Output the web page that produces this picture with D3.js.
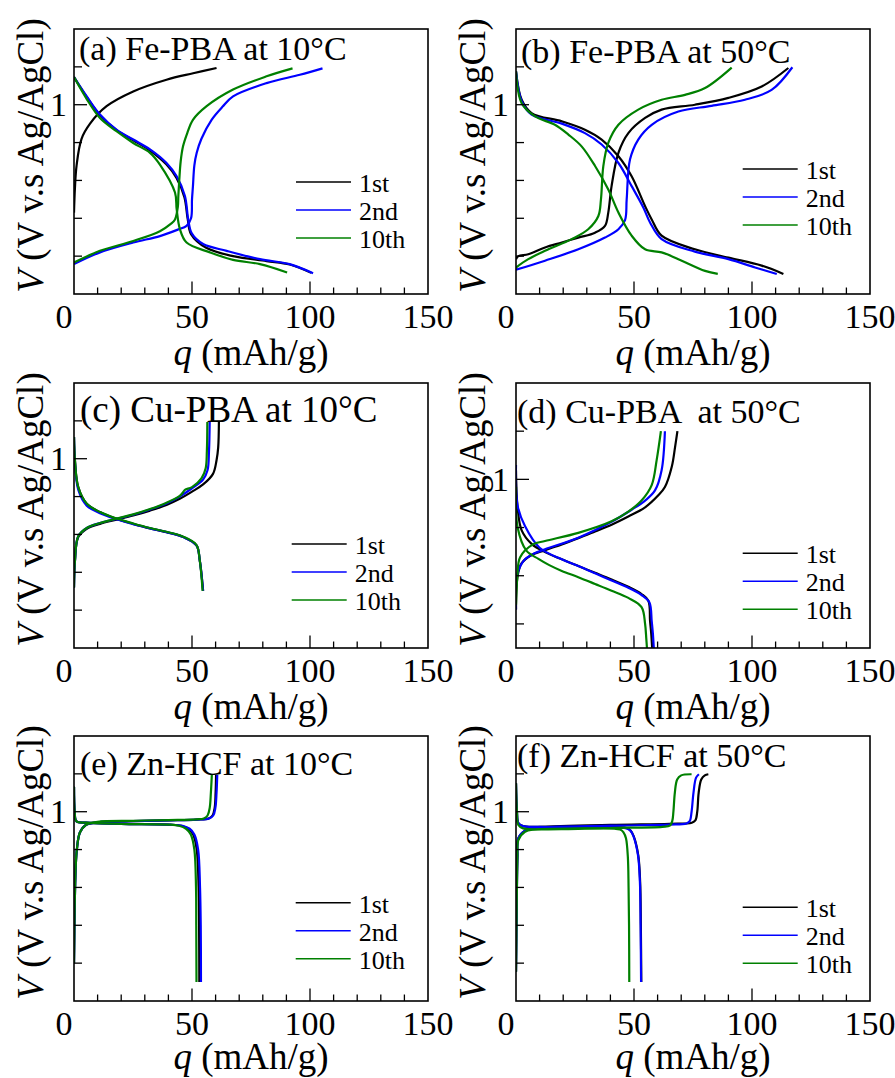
<!DOCTYPE html>
<html>
<head>
<meta charset="utf-8">
<script src="https://cdn.jsdelivr.net/npm/d3@7"></script>
<style>
  body { margin: 0; background: #fff; }
</style>
</head>
<body>
<svg id="chart" width="895" height="1078"></svg>
<script>
// ---------- shared labels ----------
const cycleNames = ["1st", "2nd", "10th"];
const cycleColors = ["#000000", "#0000ff", "#008000"];
const qTickLabels = [0, 50, 100, 150];
const vTickLabels = [1];

// ---------- (a) Fe-PBA at 10 °C   points are [q (mAh/g), V] ----------
const feCold_chg1 = [[0,0.715],[0.4,0.78],[1.1,0.84],[3.2,0.91],[6.8,0.95],[13.8,0.996],[25.1,1.035],[39.2,1.066],[50.5,1.083],[60.4,1.097]];
const feCold_dis1 = [[0,1.073],[5.4,1.02],[11,0.972],[18,0.933],[25.1,0.906],[32.2,0.879],[39.2,0.842],[43.5,0.806],[46.8,0.755],[48.2,0.697],[49.6,0.658],[56,0.622],[67.4,0.6],[81.6,0.587],[91.4,0.578],[100.5,0.556]];
const feCold_chg2 = [[0,0.579],[11,0.61],[25.1,0.636],[36.4,0.653],[44,0.67],[47.7,0.68],[49.6,0.70],[50,0.75],[50.4,0.785],[51,0.84],[52,0.873],[54,0.91],[58.3,0.96],[63,0.995],[67.4,1.022],[81.6,1.057],[95.7,1.079],[105.3,1.096]];
const feCold_dis2 = [[0,1.073],[5.4,1.022],[11,0.974],[18,0.934],[25.1,0.908],[32.2,0.882],[39.2,0.846],[43.5,0.811],[47,0.759],[48.4,0.697],[49.9,0.660],[54.7,0.632],[64.7,0.614],[78.8,0.592],[91.4,0.579],[101.3,0.555]];
const feCold_chg10 = [[0,0.583],[11,0.614],[25.1,0.64],[36.4,0.666],[41,0.685],[42.8,0.697],[44,0.73],[44.2,0.758],[44.6,0.8],[45.2,0.85],[46.2,0.89],[48,0.925],[50.4,0.96],[56.2,0.996],[67.4,1.04],[81.6,1.075],[92.6,1.096]];
const feCold_dis10 = [[0,1.073],[5.4,1.015],[11,0.965],[18,0.93],[25.1,0.899],[32.2,0.873],[36.4,0.842],[42.8,0.768],[43.5,0.724],[44.9,0.671],[47.7,0.636],[57.6,0.61],[67.4,0.59],[78.8,0.579],[90.3,0.557]];

// ---------- (b) Fe-PBA at 50 °C ----------
const feHot_chg1 = [[0,0.592],[1,0.6],[5.2,0.605],[12.3,0.623],[19.4,0.636],[26.4,0.649],[33.5,0.662],[37.7,0.68],[39.1,0.715],[40.5,0.785],[43.4,0.873],[47.6,0.925],[54.7,0.965],[61.7,0.987],[75.8,1.0],[90,1.018],[104.1,1.048],[115.4,1.097]];
const feHot_dis1 = [[0,1.088],[2.4,1.013],[6.6,0.978],[19.4,0.956],[29.2,0.934],[36.3,0.908],[43.4,0.864],[49,0.811],[54.7,0.732],[57.5,0.697],[61.7,0.654],[75.8,0.618],[90,0.596],[104.1,0.575],[113.3,0.553]];
const feHot_chg2 = [[0,0.564],[12.3,0.588],[26.4,0.618],[37.7,0.649],[43.4,0.671],[46.2,0.695],[46.9,0.75],[48.3,0.855],[51.8,0.908],[57.5,0.947],[68.8,0.982],[82.9,0.997],[97,1.013],[108.3,1.039],[117.1,1.099]];
const feHot_dis2 = [[0,1.088],[2.4,1.009],[6.6,0.974],[19.4,0.95],[29.2,0.925],[36.3,0.895],[43.4,0.846],[49,0.785],[54,0.728],[56.8,0.689],[61.7,0.645],[75.8,0.612],[90,0.592],[101.3,0.57],[110.5,0.553]];
const feHot_chg10 = [[0,0.57],[5.2,0.592],[12.3,0.614],[23.6,0.645],[30.6,0.671],[34.9,0.706],[36,0.75],[37,0.838],[39.1,0.899],[43.4,0.947],[51.8,0.987],[61.7,1.013],[71.6,1.026],[80.1,1.044],[91.4,1.098]];
const feHot_dis10 = [[0,1.088],[2.4,1.004],[8.1,0.969],[16.5,0.947],[22.2,0.921],[27.8,0.89],[33.5,0.838],[39.1,0.776],[43.4,0.715],[49,0.654],[54.7,0.618],[61.7,0.61],[68.8,0.592],[80.1,0.561],[85.5,0.553]];

// ---------- (c) Cu-PBA at 10 °C ----------
const cuCold_chg1 = [[0,0.66],[0.4,0.73],[1.8,0.793],[5.4,0.815],[11,0.828],[18.1,0.839],[25.1,0.85],[32.2,0.863],[39.2,0.878],[44.8,0.894],[50,0.913],[54.7,0.932],[58.9,0.96],[60.4,0.996],[61.1,1.03],[61.4,1.097]];
const cuCold_dis1 = [[0,1.057],[0.4,0.996],[1.8,0.925],[5.4,0.881],[11,0.859],[18.1,0.841],[25.1,0.828],[32.2,0.816],[39.2,0.806],[46.3,0.793],[51.9,0.771],[53.3,0.731],[54.7,0.651]];
const cuCold_chg2 = [[0,0.66],[0.4,0.73],[1.8,0.795],[5.4,0.817],[11,0.83],[18.1,0.841],[25.1,0.852],[32.2,0.866],[39.2,0.882],[44.8,0.9],[50,0.922],[54.7,0.945],[56.6,0.97],[57.2,1.02],[57.5,1.097]];
const cuCold_dis2 = [[0,1.057],[0.4,0.99],[1.8,0.918],[5.4,0.876],[11,0.856],[18.1,0.84],[25.1,0.827],[32.2,0.816],[39.2,0.806],[46.3,0.793],[51.9,0.771],[53.3,0.731],[54.7,0.651]];
const cuCold_chg10 = [[0,0.66],[0.4,0.73],[1.8,0.795],[5.4,0.817],[11,0.83],[18.1,0.842],[25.1,0.853],[32.2,0.867],[39.2,0.884],[44.8,0.902],[46.3,0.912],[47,0.918],[50,0.925],[54,0.948],[55.8,0.975],[56.3,1.02],[56.5,1.097]];
const cuCold_dis10 = [[0,1.057],[0.4,0.996],[1.8,0.925],[5.4,0.881],[11,0.859],[18.1,0.842],[25.1,0.829],[32.2,0.817],[39.2,0.807],[46.3,0.794],[51.9,0.772],[53.3,0.731],[54.5,0.651]];

// ---------- (d) Cu-PBA at 50 °C ----------
const cuHot_chg1 = [[0,0.73],[0.7,0.8],[2.4,0.826],[6.6,0.843],[12.3,0.853],[19.4,0.865],[26.4,0.878],[33.5,0.892],[40.5,0.906],[47.6,0.923],[54.7,0.942],[60.3,0.967],[63.1,0.984],[66,1.026],[67.4,1.067],[68.4,1.1]];
const cuHot_dis1 = [[0,1.019],[0.7,0.94],[2.4,0.894],[6.6,0.866],[12.3,0.849],[19.4,0.834],[26.4,0.82],[33.5,0.806],[40.5,0.792],[47.6,0.777],[53.2,0.762],[56.1,0.748],[56.8,0.706],[57.3,0.68],[57.7,0.649]];
const cuHot_chg2 = [[0,0.73],[0.7,0.805],[3.8,0.834],[8.1,0.847],[12.3,0.855],[26.4,0.879],[40.5,0.912],[49,0.937],[54.7,0.956],[58.9,0.977],[61.7,1.019],[63.1,1.1]];
const cuHot_dis2 = [[0,1.03],[0.7,0.945],[3.8,0.903],[10,0.858],[19.4,0.834],[26.4,0.82],[33.5,0.805],[40.5,0.79],[47.6,0.775],[53.2,0.76],[56.5,0.745],[57.5,0.706],[58,0.68],[58.4,0.649]];
const cuHot_chg10 = [[0,0.74],[0.6,0.8],[1.7,0.838],[7.2,0.865],[12.3,0.872],[26.4,0.889],[40.5,0.913],[47.6,0.933],[53.2,0.956],[57.5,0.988],[59.6,1.04],[61.4,1.1]];
const cuHot_dis10 = [[0,0.984],[0.7,0.9],[4.4,0.852],[9.5,0.835],[14.1,0.822],[19.4,0.81],[26.4,0.797],[33.5,0.783],[40.5,0.769],[47.6,0.754],[53.2,0.735],[54.7,0.7],[55.2,0.67],[55.5,0.649]];

// ---------- (e) Zn-HCF at 10 °C ----------
const znCold_chg1 = [[0,0.6],[0.3,0.75],[0.7,0.85],[1.2,0.9],[2.5,0.945],[5,0.965],[10,0.972],[25,0.975],[40,0.977],[52,0.979],[57,0.982],[58.7,0.99],[59.6,1.01],[60,1.05],[60.2,1.097]];
const znCold_dis1 = [[0,1.066],[0.3,1.0],[1,0.975],[5,0.971],[20,0.968],[40,0.966],[45.5,0.963],[48.5,0.955],[50.5,0.94],[52,0.9],[52.8,0.8],[53,0.7],[53.1,0.55]];
const znCold_chg2 = [[0,0.6],[0.3,0.75],[0.7,0.85],[1.2,0.9],[2.5,0.945],[5,0.965],[10,0.972],[25,0.975],[40,0.977],[52,0.979],[57.3,0.982],[59,0.99],[59.9,1.01],[60.4,1.05],[60.7,1.097]];
const znCold_dis2 = [[0,1.066],[0.3,1.0],[1,0.975],[5,0.971],[20,0.968],[40,0.966],[46,0.963],[49,0.955],[51,0.94],[52.6,0.9],[53.4,0.8],[53.7,0.7],[53.8,0.55]];
const znCold_chg10 = [[0,0.6],[0.3,0.75],[0.7,0.85],[1.2,0.9],[2.5,0.945],[5,0.965],[10,0.973],[25,0.976],[40,0.978],[52,0.98],[55,0.982],[56.6,0.99],[57.5,1.01],[58,1.05],[58.4,1.097]];
const znCold_dis10 = [[0,1.066],[0.3,1.0],[1,0.975],[5,0.971],[20,0.968],[40,0.966],[44.5,0.963],[47.5,0.955],[49.5,0.94],[51,0.9],[51.7,0.8],[51.8,0.7],[51.9,0.55]];

// ---------- (f) Zn-HCF at 50 °C ----------
const znHot_chg1 = [[0,0.577],[0.3,0.75],[0.6,0.88],[1,0.93],[3.8,0.95],[8,0.958],[40,0.965],[65,0.968],[74.5,0.971],[76,0.977],[76.8,1.0],[77.4,1.05],[78.5,1.085],[80,1.096],[81.5,1.099]];
const znHot_dis1 = [[0,1.075],[0.4,1.0],[1,0.97],[3,0.962],[10,0.96],[30,0.958],[46.9,0.957],[48.6,0.95],[49.9,0.935],[51.8,0.885],[52.6,0.815],[52.9,0.7],[53.1,0.55]];
const znHot_chg2 = [[0,0.577],[0.3,0.75],[0.6,0.88],[1,0.93],[3.8,0.95],[8,0.957],[40,0.963],[65,0.966],[72.2,0.969],[73.6,0.975],[74.4,1.0],[75.2,1.05],[76.3,1.09],[77.5,1.099]];
const znHot_dis2 = [[0,1.075],[0.4,1.0],[1,0.97],[3,0.962],[10,0.96],[30,0.958],[46.8,0.956],[48.5,0.95],[49.8,0.935],[51.7,0.885],[52.5,0.815],[52.8,0.7],[53,0.55]];
const znHot_chg10 = [[0,0.577],[0.3,0.75],[0.6,0.88],[1,0.925],[3.8,0.947],[8,0.953],[40,0.957],[62,0.96],[65.2,0.963],[66.2,0.975],[66.7,1.0],[67.3,1.05],[68.3,1.085],[70,1.096],[74.4,1.099]];
const znHot_dis10 = [[0,1.075],[0.4,1.0],[1,0.965],[3,0.956],[20,0.954],[44.1,0.953],[45.6,0.945],[46.6,0.93],[47.4,0.88],[47.7,0.8],[47.9,0.7],[48,0.55]];

// ---------- panel layout (box corners, per-panel voltage window, label spots) ----------
const panels = [
  { title: "(a) Fe-PBA at 10°C",  col: 0, row: 0, vDomain: [0.5, 1.2],  titleSize: 34, titleAt: [5, 30.5], legendAt: [222, 153],
    curves: [[feCold_chg1, feCold_dis1], [feCold_chg2, feCold_dis2], [feCold_chg10, feCold_dis10]] },
  { title: "(b) Fe-PBA at 50°C",  col: 1, row: 0, vDomain: [0.5, 1.2],  titleSize: 34, titleAt: [5, 34.3], legendAt: [226.7, 140],
    curves: [[feHot_chg1, feHot_dis1], [feHot_chg2, feHot_dis2], [feHot_chg10, feHot_dis10]] },
  { title: "(c) Cu-PBA at 10°C",  col: 0, row: 1, vDomain: [0.5, 1.2],  titleSize: 37, titleAt: [6, 39], legendAt: [217.7, 161],
    curves: [[cuCold_chg1, cuCold_dis1], [cuCold_chg2, cuCold_dis2], [cuCold_chg10, cuCold_dis10]] },
  { title: "(d) Cu-PBA  at 50°C", col: 1, row: 1, vDomain: [0.65, 1.2], titleSize: 34, titleAt: [1, 39.5], legendAt: [226.7, 170.3],
    curves: [[cuHot_chg1, cuHot_dis1], [cuHot_chg2, cuHot_dis2], [cuHot_chg10, cuHot_dis10]] },
  { title: "(e) Zn-HCF at 10°C",  col: 0, row: 2, vDomain: [0.5, 1.2],  titleSize: 34, titleAt: [6, 39], legendAt: [221.7, 166.7],
    curves: [[znCold_chg1, znCold_dis1], [znCold_chg2, znCold_dis2], [znCold_chg10, znCold_dis10]] },
  { title: "(f) Zn-HCF at 50°C",  col: 1, row: 2, vDomain: [0.5, 1.2],  titleSize: 34, titleAt: [1, 31], legendAt: [226.7, 171.3],
    curves: [[znHot_chg1, znHot_dis1], [znHot_chg2, znHot_dis2], [znHot_chg10, znHot_dis10]] }
];

const serif = "'Liberation Serif'";
const W = 895, H = 1078;
const colLeft = [74, 516];
const rowTop = [29, 383, 736];
const boxW = 354, boxH = 265;

const svg = d3.select("#chart");
svg.append("rect").attr("width", W).attr("height", H).attr("fill", "#fff");

// every text element gets the serif face explicitly
function label(sel) {
  return sel.append("text").style("font-family", serif).attr("fill", "#000");
}

panels.forEach((p, pi) => {
  const x0 = colLeft[p.col], y0 = rowTop[p.row];
  const g = svg.append("g").attr("transform", `translate(${x0},${y0})`);

  const x = d3.scaleLinear().domain([0, 150]).range([0, boxW]);
  const y = d3.scaleLinear().domain(p.vDomain).range([boxH, 0]);

  const clipId = "clip" + pi;
  g.append("clipPath").attr("id", clipId)
    .append("rect").attr("width", boxW).attr("height", boxH);

  // curves: 1st, 2nd, 10th (later cycles painted on top)
  const line = d3.line()
    .x(d => x(d[0])).y(d => y(d[1]))
    .curve(d3.curveCatmullRom.alpha(0.5));
  const plot = g.append("g").attr("clip-path", `url(#${clipId})`);
  p.curves.forEach((pair, ci) => {
    pair.forEach(branch => {
      plot.append("path")
        .datum(branch)
        .attr("d", line)
        .attr("fill", "none")
        .attr("stroke", cycleColors[ci])
        .attr("stroke-width", 2.2)
        .attr("stroke-linejoin", "round");
    });
  });

  // inward ticks on the bottom axis: every 10, longer at labelled values
  const xMinor = d3.range(10, 150, 10);
  g.selectAll(".xt").data(xMinor).enter().append("line")
    .attr("x1", d => x(d)).attr("x2", d => x(d))
    .attr("y1", boxH).attr("y2", d => boxH - (qTickLabels.includes(d) ? 12.5 : 6.5))
    .attr("stroke", "#000").attr("stroke-width", 1.3);

  // inward ticks on the left axis: every 0.1 V, longer at labelled values
  const lo = Math.ceil(p.vDomain[0] * 10 + 1e-6), hi = Math.floor(p.vDomain[1] * 10 - 1e-6);
  const yMinor = d3.range(lo, hi + 1).map(k => k / 10);
  g.selectAll(".yt").data(yMinor).enter().append("line")
    .attr("x1", 0).attr("x2", d => (vTickLabels.some(v => Math.abs(v - d) < 1e-9) ? 13 : 8))
    .attr("y1", d => y(d)).attr("y2", d => y(d))
    .attr("stroke", "#000").attr("stroke-width", 1.3);

  // frame
  g.append("rect").attr("width", boxW).attr("height", boxH)
    .attr("fill", "none").attr("stroke", "#000").attr("stroke-width", 1.6);

  // tick labels
  qTickLabels.forEach(d => {
    label(g).attr("x", x(d) + (d === 0 ? -10 : 0)).attr("y", boxH + 34)
      .attr("text-anchor", "middle").attr("font-size", 34).text(d);
  });
  vTickLabels.forEach(d => {
    label(g).attr("x", -7).attr("y", y(d) + 11.5)
      .attr("text-anchor", "end").attr("font-size", 34).text(d);
  });

  // axis titles (the bottom row's title is kept inside the page)
  const xTitleY = Math.min(boxH + 71, H - y0 - 9);
  const xt = label(g).attr("x", boxW / 2).attr("y", xTitleY)
    .attr("text-anchor", "middle").attr("font-size", 37);
  xt.append("tspan").attr("font-style", "italic").text("q");
  xt.append("tspan").text(" (mAh/g)");

  const yt = label(g)
    .attr("transform", `translate(-31,${boxH / 2 - 6}) rotate(-90)`)
    .attr("text-anchor", "middle").attr("font-size", 37);
  yt.append("tspan").attr("font-style", "italic").text("V");
  yt.append("tspan").text(" (V v.s Ag/AgCl)");

  // panel title
  label(g).attr("x", p.titleAt[0]).attr("y", p.titleAt[1])
    .attr("font-size", p.titleSize).style("white-space", "pre")
    .text(p.title);

  // legend
  const lg = g.append("g").attr("transform", `translate(${p.legendAt[0]},${p.legendAt[1]})`);
  cycleNames.forEach((name, i) => {
    lg.append("line").attr("x1", 0).attr("x2", 55)
      .attr("y1", i * 28).attr("y2", i * 28)
      .attr("stroke", cycleColors[i]).attr("stroke-width", 1.6);
    label(lg).attr("x", 63).attr("y", i * 28 + 10)
      .attr("font-size", 26).text(name);
  });
});
</script>
</body>
</html>
